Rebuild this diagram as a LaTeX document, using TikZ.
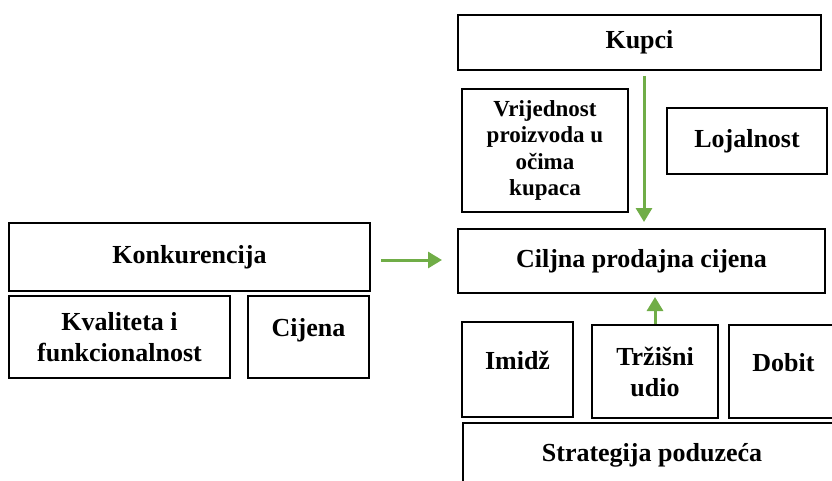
\documentclass[tikz,border=0pt]{standalone}
\usepackage{fontspec}
\setmainfont{Liberation Serif}
\usepackage{tikz}
\usetikzlibrary{arrows.meta}
\definecolor{arrgreen}{HTML}{70AD47}

\begin{document}
\begin{tikzpicture}[x=1pt,y=-1pt,
    flow/.style={draw=arrgreen,line width=3pt,-{Triangle[length=14pt,width=16pt]}},
    raised/.style={text height=18pt,text depth=#1}]
                \useasboundingbox (0,0) rectangle (832,481);
                \begin{scope}[every node/.style={rectangle,draw,line width=2pt,inner sep=0pt,
                    align=center,font=\fontsize{26}{31}\selectfont\bfseries}]
                \node[minimum width=363pt,minimum height=55pt] (kupci) at (639.5,42.5) {Kupci};
                \node[minimum width=166pt,minimum height=123pt,font=\fontsize{23}{26.5}\selectfont\bfseries]
                    (vrijednost) at (545,150.5) {Vrijednost\\proizvoda u\\očima\\kupaca};
                \node[minimum width=160pt,minimum height=66pt] (lojalnost) at (747,141) {Lojalnost};
                \node[minimum width=367pt,minimum height=64pt] (ciljna) at (641.5,261) {Ciljna prodajna cijena};
                \node[minimum width=111pt,minimum height=95pt,raised=19pt] (imidz) at (517.5,369.5) {Imidž};
                \node[minimum width=126pt,minimum height=93pt] (udio) at (655,371.5) {Tržišni\\udio};
                \node[minimum width=109pt,minimum height=93pt,raised=19pt] (dobit) at (783.5,371.5) {Dobit};
                \node[minimum width=378pt,minimum height=77pt,raised=19pt] (strategija) at (652,461.5) {Strategija poduzeća};
                \node[minimum width=361pt,minimum height=68pt] (konkurencija) at (189.5,257) {Konkurencija};
                \node[minimum width=221pt,minimum height=82pt] (kvaliteta) at (119.5,337) {Kvaliteta i\\funkcionalnost};
                \node[minimum width=121pt,minimum height=82pt,raised=20pt] (cijena) at (308.5,337) {Cijena};
                \end{scope}

                \draw[flow,shorten <=5pt,shorten >=6pt]
                    ([xshift=4.5pt]kupci.south) -- ([xshift=2.5pt]ciljna.north);
                \draw[flow,shorten >=3pt]
                    (udio.north) -- (udio.north |- ciljna.south);
                \draw[flow,shorten <=10pt,shorten >=15pt]
                    ([yshift=-3pt]konkurencija.east) -- ([yshift=-3pt]konkurencija.east -| ciljna.west);
                \end{tikzpicture}
\end{document}
